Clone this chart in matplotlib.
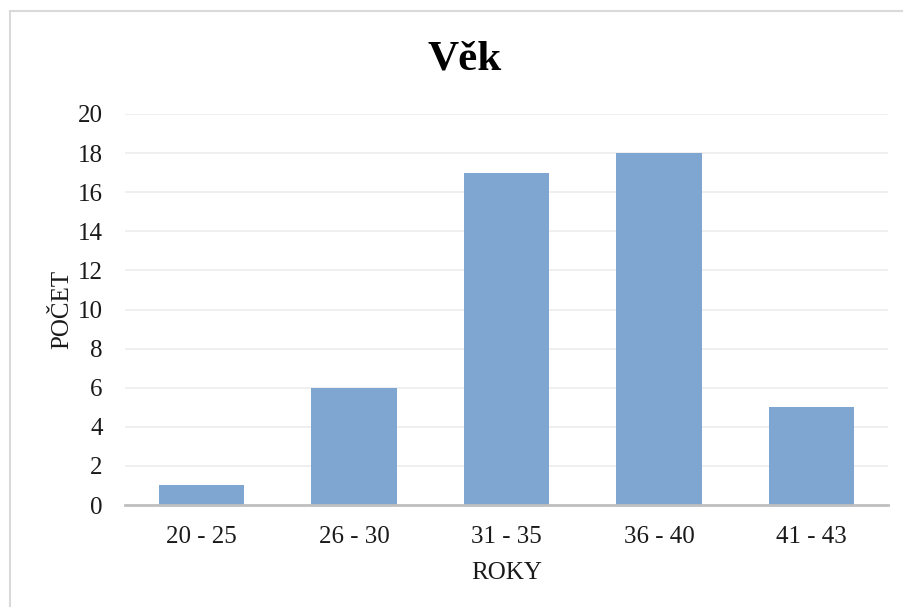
import matplotlib.pyplot as plt
from matplotlib.patches import Rectangle

categories = ["20 - 25", "26 - 30", "31 - 35", "36 - 40", "41 - 43"]
counts = [1, 6, 17, 18, 5]
y_ticks = [0, 2, 4, 6, 8, 10, 12, 14, 16, 18, 20]

plt.rcParams['font.family'] = ['Liberation Serif', 'DejaVu Serif']

fig = plt.figure(figsize=(9.04, 6.07), dpi=100)
W, H = 904, 607

# chart frame (open on right and bottom edges of the canvas)
fig.patches.append(Rectangle((10 / W, -0.1), 2.0, (H - 11) / H + 0.1,
                             transform=fig.transFigure, fill=False,
                             edgecolor='#d9d9d9', linewidth=1.5, zorder=0))

left, right = 125 / W, 888 / W
bottom, top = 1 - 505 / H, 1 - 114 / H
ax = fig.add_axes([left, bottom, right - left, top - bottom])

x = range(len(categories))
ax.bar(x, counts, width=0.56, color='#7ea6d0', zorder=3)

ax.set_xlim(-0.5, len(categories) - 0.5)
ax.set_ylim(0, 20)
ax.set_yticks(y_ticks)
ax.set_xticks(list(x))
ax.set_xticklabels(categories)

ax.grid(axis='y', color='#ececec', linewidth=1.2, zorder=0)
ax.set_axisbelow(True)
for side in ['top', 'right', 'left']:
    ax.spines[side].set_visible(False)
ax.spines['bottom'].set_color('#bfbfbf')
ax.spines['bottom'].set_linewidth(2)
ax.spines['bottom'].set_zorder(4)

ax.tick_params(axis='both', length=0, labelsize=18, colors='#1a1a1a')
ax.tick_params(axis='x', pad=15)
ax.tick_params(axis='y', pad=16)

ax.set_xlabel("ROKY", fontsize=18, labelpad=10, color='#1a1a1a')
ax.set_ylabel("POČET", fontsize=18, labelpad=3, color='#1a1a1a')

fig.text(465 / W, 1 - 60 / H, "Věk", ha='center', va='center',
         fontsize=31, fontweight='bold', color='black')

fig.savefig("out.png", dpi=100)
